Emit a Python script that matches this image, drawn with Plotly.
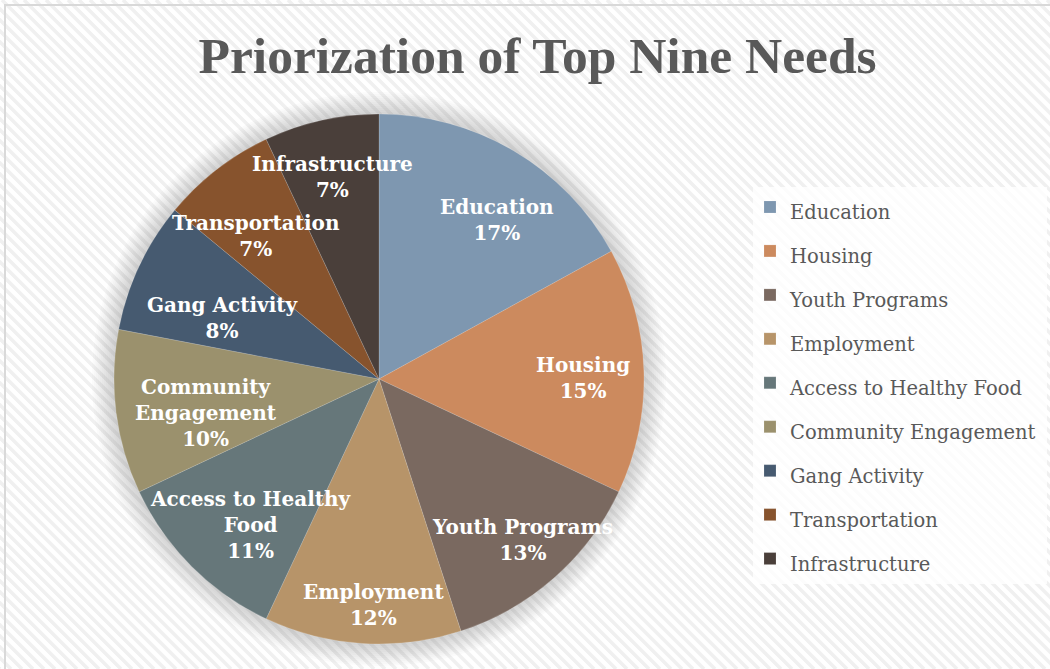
import math
import plotly.graph_objects as go

# Survey results: share of respondents naming each need
needs = ["Education", "Housing", "Youth Programs", "Employment",
         "Access to Healthy Food", "Community Engagement", "Gang Activity",
         "Transportation", "Infrastructure"]
shares = [17, 15, 13, 12, 11, 10, 8, 7, 7]
# Slice label text (line breaks as they wrap inside the pie)
slice_text = ["Education", "Housing", "Youth Programs", "Employment",
              "Access to Healthy<br>Food", "Community<br>Engagement",
              "Gang Activity", "Transportation", "Infrastructure"]

colors = ["#7E97B0", "#CC8A5E", "#7A6960", "#B79469", "#66777A",
          "#9B916D", "#465A70", "#87532D", "#4A3F3A"]
# best-fit placement of each slice label: radius (fraction of pie radius)
# and a small angular nudge (degrees) away from the slice's middle angle
label_r = [0.75, 0.77, 0.81, 0.85, 0.73, 0.665, 0.635, 0.715, 0.785]
label_nudge = [5.8, 1.2, -0.5, -2.3, -3.6, -3.6, -3.5, -2.6, -0.2]

W, H = 1050, 669
CX, CY, R = 379, 379, 265  # pie centre and radius in pixels


def px(x):
    return x / W


def py(y):
    return 1 - y / H


shapes = []
# diagonal hatch background
step = 11
x = -H
while x < W + step:
    shapes.append(dict(type="line", xref="paper", yref="paper",
                       x0=px(x), y0=py(0), x1=px(x + H), y1=py(H),
                       line=dict(color="#F0F0F0", width=3.5), layer="below"))
    x += step
# chart frame
shapes.append(dict(type="rect", xref="paper", yref="paper",
                   x0=px(5), y0=py(5), x1=px(1060), y1=py(680),
                   line=dict(color="#D9D9D9", width=2), layer="below"))
# soft glow under the pie
for i in range(11):
    rr = R + 22 - i * 2
    shapes.append(dict(type="circle", xref="paper", yref="paper",
                       x0=px(CX - rr), x1=px(CX + rr),
                       y0=py(CY + rr), y1=py(CY - rr),
                       fillcolor="rgba(120,120,120,0.028)", line=dict(width=0),
                       layer="below"))
# legend panel
shapes.append(dict(type="rect", xref="paper", yref="paper",
                   x0=px(753), y0=py(187), x1=px(1047), y1=py(584),
                   fillcolor="rgba(255,255,255,0.8)", line=dict(width=0),
                   layer="below"))

# slice labels near the middle angle of each slice
annotations = []
total = sum(shares)
cum = 0
for txt, v, f, nd in zip(slice_text, shares, label_r, label_nudge):
    mid = (cum + v / 2) / total * 2 * math.pi + math.radians(nd)
    cum += v
    lx = CX + f * R * math.sin(mid)
    ly = CY - f * R * math.cos(mid)
    annotations.append(dict(
        x=px(lx), y=py(ly), xref="paper", yref="paper",
        text=f"<b>{txt}<br>{round(v / total * 100)}%</b>",
        showarrow=False, xanchor="center", yanchor="middle", yshift=-1,
        font=dict(family="DejaVu Serif", size=20, color="white")))

fig = go.Figure(go.Pie(
    labels=[f"<span style='font-size:19.5px'>{n}</span>" for n in needs],
    values=shares,
    sort=False,
    direction="clockwise",
    rotation=0,
    marker=dict(colors=colors, line=dict(color="rgba(255,255,255,0.25)", width=0.6)),
    textinfo="none",
    hoverinfo="label+percent",
    domain=dict(x=[px(CX - R), px(CX + R)], y=[py(CY + R), py(CY - R)]),
))

fig.update_layout(
    width=W, height=H,
    margin=dict(l=0, r=0, t=0, b=0, autoexpand=False),
    paper_bgcolor="white",
    title=dict(text="<b>Priorization of Top Nine Needs</b>",
               x=0.512, xanchor="center", y=py(55), yanchor="middle",
               font=dict(family="Liberation Serif", size=51.5, color="#595959")),
    legend=dict(x=px(750), y=py(180), xanchor="left", yanchor="top",
                font=dict(family="DejaVu Serif", size=31.5, color="#595959"),
                bgcolor="rgba(0,0,0,0)", itemclick=False,
                entrywidth=200, entrywidthmode="pixels"),
    shapes=shapes,
    annotations=annotations,
)

fig.write_html("out.html")
